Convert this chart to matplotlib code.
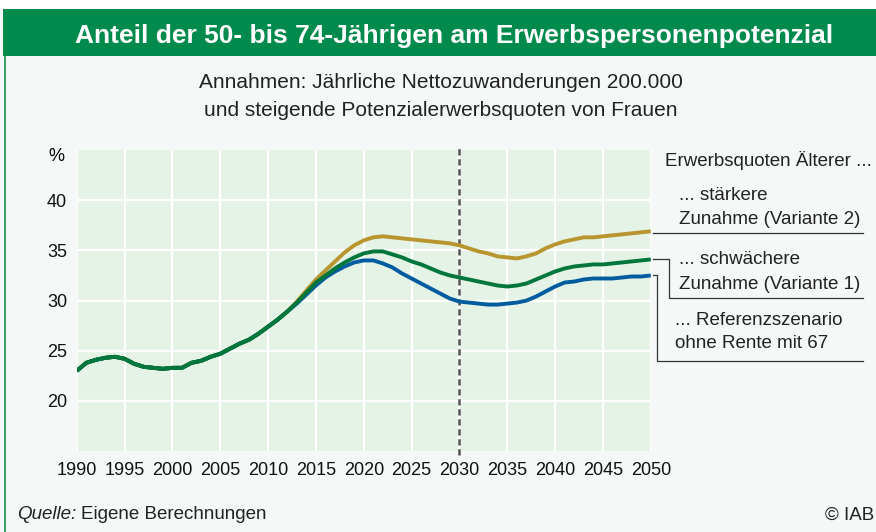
import matplotlib.pyplot as plt
from matplotlib.patches import Rectangle

plt.rcParams["font.family"] = ["Liberation Sans", "DejaVu Sans"]

years = list(range(1990, 2051))

# shared history 1990-2012
base = [23.0, 23.8, 24.1, 24.3, 24.4, 24.2, 23.7, 23.4, 23.3, 23.2,
        23.3, 23.3, 23.8, 24.0, 24.4, 24.7, 25.2, 25.7, 26.1, 26.7,
        27.4, 28.1, 28.9]

variante2 = base + [29.9, 31.0, 32.1, 33.0, 33.9, 34.8, 35.5, 36.0, 36.3, 36.4,
                    36.3, 36.2, 36.1, 36.0, 35.9, 35.8, 35.7, 35.5, 35.2, 34.9,
                    34.7, 34.4, 34.3, 34.2, 34.4, 34.7, 35.2, 35.6, 35.9, 36.1,
                    36.3, 36.3, 36.4, 36.5, 36.6, 36.7, 36.8, 36.9]
variante1 = base + [29.8, 30.8, 31.8, 32.5, 33.2, 33.8, 34.3, 34.7, 34.9, 34.9,
                    34.6, 34.3, 33.9, 33.6, 33.2, 32.8, 32.5, 32.3, 32.1, 31.9,
                    31.7, 31.5, 31.4, 31.5, 31.7, 32.1, 32.5, 32.9, 33.2, 33.4,
                    33.5, 33.6, 33.6, 33.7, 33.8, 33.9, 34.0, 34.1]
referenz = base + [29.7, 30.6, 31.5, 32.3, 32.9, 33.4, 33.8, 34.0, 34.0, 33.7,
                   33.3, 32.7, 32.2, 31.7, 31.2, 30.7, 30.2, 29.9, 29.8, 29.7,
                   29.6, 29.6, 29.7, 29.8, 30.0, 30.4, 30.9, 31.4, 31.8, 31.9,
                   32.1, 32.2, 32.2, 32.2, 32.3, 32.4, 32.4, 32.5]

xticks = list(range(1990, 2051, 5))
yticks = [20, 25, 30, 35, 40]

gold = "#b8952f"
green = "#00763a"
blue = "#005c9e"

fig = plt.figure(figsize=(8.76, 5.32), dpi=100)
fig.patch.set_facecolor("#f4f8f6")

# white strip on top, green header bar, green left border
fig.patches.append(Rectangle((0, 0.983), 1, 0.017, transform=fig.transFigure,
                             facecolor="white", edgecolor="none", zorder=0))
fig.patches.append(Rectangle((0.0035, 0.8947), 0.9965, 0.0883, transform=fig.transFigure,
                             facecolor="#008a4c", edgecolor="none", zorder=1))
fig.patches.append(Rectangle((0.0045, 0), 0.0025, 0.8947, transform=fig.transFigure,
                             facecolor="#3aa06a", edgecolor="none", zorder=1))

fig.text(0.518, 0.933, "Anteil der 50- bis 74-Jährigen am Erwerbspersonenpotenzial",
         color="white", fontsize=19, fontweight="bold", ha="center", va="center")
fig.text(0.503, 0.844, "Annahmen: Jährliche Nettozuwanderungen 200.000",
         fontsize=15, ha="center", va="center", color="#222222")
fig.text(0.503, 0.793, "und steigende Potenzialerwerbsquoten von Frauen",
         fontsize=15, ha="center", va="center", color="#222222")

ax = fig.add_axes([0.0876, 0.152, 0.6553, 0.566])
ax.set_facecolor("#e5f3e6")
ax.set_xlim(1990, 2050)
ax.set_ylim(15, 45)
ax.set_xticks(xticks)
ax.set_yticks(yticks)
ax.set_xticklabels([str(x) for x in xticks])
ax.grid(True, color="white", linewidth=1.6)
ax.set_axisbelow(True)
for s in ax.spines.values():
    s.set_visible(False)
ax.tick_params(length=0, labelsize=13, colors="#111111")
ax.tick_params(axis="x", pad=8)
ax.tick_params(axis="y", pad=7)
ax.text(-0.021, 0.98, "%", transform=ax.transAxes, fontsize=13, ha="right", va="center")

ax.axvline(2030, ymin=-0.012, ymax=1.01, color="#555555", linewidth=1.8,
           linestyle=(0, (2.5, 1.5)), clip_on=False, zorder=2)

ax.plot(years, variante2, color=gold, linewidth=2.8, zorder=3, solid_capstyle="butt")
ax.plot(years, variante1, color=green, linewidth=2.8, zorder=4, solid_capstyle="butt")
ax.plot(years, referenz, color=blue, linewidth=2.8, zorder=3, solid_capstyle="butt")
# green history drawn on top
ax.plot(years[:len(base)], base, color=green, linewidth=2.8, zorder=5, solid_capstyle="butt")

# connector lines to the labels on the right
lc = "#333333"
ax.plot([2050.2, 2072.2], [variante2[-1] - 0.15, variante2[-1] - 0.15],
        color=lc, linewidth=0.9, clip_on=False)
ax.plot([2050.2, 2051.95, 2051.95, 2072.2],
        [variante1[-1], variante1[-1], 30.3, 30.3],
        color=lc, linewidth=0.9, clip_on=False)
ax.plot([2050.2, 2050.65, 2050.65, 2072.2],
        [referenz[-1] + 0.05, referenz[-1] + 0.05, 24.0, 24.0],
        color=lc, linewidth=0.9, clip_on=False)

lab = dict(fontsize=13.5, color="#222222", va="center", ha="left", transform=ax.transData,
           clip_on=False)
ax.text(2051.5, 44.0, "Erwerbsquoten Älterer ...", **lab)
ax.text(2053.0, 40.5, "... stärkere", **lab)
ax.text(2053.0, 38.1, "Zunahme (Variante 2)", **lab)
ax.text(2053.0, 34.1, "... schwächere", **lab)
ax.text(2053.0, 31.6, "Zunahme (Variante 1)", **lab)
ax.text(2052.5, 28.0, "... Referenzszenario", **lab)
ax.text(2052.5, 25.7, "ohne Rente mit 67", **lab)

fig.text(0.0195, 0.032, "Quelle:", fontsize=13.5, style="italic", ha="left", va="center",
         color="#222222")
fig.text(0.0925, 0.032, "Eigene Berechnungen", fontsize=13.5, ha="left", va="center",
         color="#222222")
fig.text(0.942, 0.032, "© IAB", fontsize=13.5, ha="left", va="center", color="#222222")

fig.savefig("out.png", dpi=100, facecolor=fig.get_facecolor())
